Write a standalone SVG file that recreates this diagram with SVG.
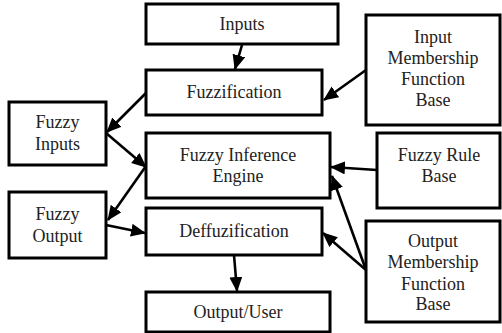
<svg xmlns="http://www.w3.org/2000/svg" width="502" height="333" viewBox="0 0 502 333">
  <style>
    .box { fill: #ffffff; stroke: #000000; stroke-width: 3; }
    .lbl { font-family: 'Liberation Serif', 'DejaVu Serif', serif; font-size: 18px; fill: #222222; text-anchor: middle; }
    .edge { stroke: #000000; stroke-width: 2.6; fill: none; marker-end: url(#arrow); }
  </style>
  <defs>
    <marker id="arrow" markerUnits="userSpaceOnUse" markerWidth="16" markerHeight="14" refX="14" refY="6.5" orient="auto">
      <path d="M0,0 L15,6.5 L0,13 z" fill="#000000"/>
    </marker>
  </defs>
  <rect width="502" height="333" fill="#ffffff"/>

  <g id="inputs">
    <rect class="box" x="146" y="4" width="192" height="40"/>
    <text class="lbl" x="242" y="30">Inputs</text>
  </g>
  <g id="fuzzification">
    <rect class="box" x="146" y="70" width="176" height="45"/>
    <text class="lbl" x="234" y="98">Fuzzification</text>
  </g>
  <g id="input-mf-base">
    <rect class="box" x="366" y="15" width="134" height="110"/>
    <text class="lbl" x="433" y="43">Input</text>
    <text class="lbl" x="433" y="64">Membership</text>
    <text class="lbl" x="433" y="85">Function</text>
    <text class="lbl" x="433" y="106">Base</text>
  </g>
  <g id="fuzzy-inputs">
    <rect class="box" x="9" y="102" width="97" height="63"/>
    <text class="lbl" x="57.5" y="128">Fuzzy</text>
    <text class="lbl" x="57.5" y="150">Inputs</text>
  </g>
  <g id="inference-engine">
    <rect class="box" x="146" y="133" width="184" height="65"/>
    <text class="lbl" x="238" y="161">Fuzzy Inference</text>
    <text class="lbl" x="238" y="182">Engine</text>
  </g>
  <g id="rule-base">
    <rect class="box" x="377" y="133" width="123" height="75"/>
    <text class="lbl" x="439" y="161">Fuzzy Rule</text>
    <text class="lbl" x="439" y="182">Base</text>
  </g>
  <g id="fuzzy-output">
    <rect class="box" x="9" y="192" width="97" height="66"/>
    <text class="lbl" x="57.5" y="220">Fuzzy</text>
    <text class="lbl" x="57.5" y="242">Output</text>
  </g>
  <g id="deffuzification">
    <rect class="box" x="146" y="208" width="176" height="47"/>
    <text class="lbl" x="234" y="237">Deffuzification</text>
  </g>
  <g id="output-mf-base">
    <rect class="box" x="366" y="221" width="134" height="101"/>
    <text class="lbl" x="433" y="247">Output</text>
    <text class="lbl" x="433" y="268">Membership</text>
    <text class="lbl" x="433" y="290">Function</text>
    <text class="lbl" x="433" y="310">Base</text>
  </g>
  <g id="output-user">
    <rect class="box" x="146" y="292" width="184" height="40"/>
    <text class="lbl" x="238" y="318">Output/User</text>
  </g>

  <g id="connectors">
    <line class="edge" x1="242" y1="45" x2="235" y2="69"/>
    <line class="edge" x1="366" y1="70" x2="324" y2="100"/>
    <line class="edge" x1="146" y1="93" x2="107" y2="132"/>
    <line class="edge" x1="106" y1="133" x2="146" y2="167"/>
    <line class="edge" x1="146" y1="166" x2="108" y2="220"/>
    <line class="edge" x1="106" y1="225" x2="145" y2="233"/>
    <line class="edge" x1="377" y1="170" x2="331" y2="167"/>
    <line class="edge" x1="366" y1="270" x2="332" y2="176"/>
    <line class="edge" x1="366" y1="270" x2="323" y2="233"/>
    <line class="edge" x1="234" y1="255" x2="237" y2="291"/>
  </g>
</svg>
